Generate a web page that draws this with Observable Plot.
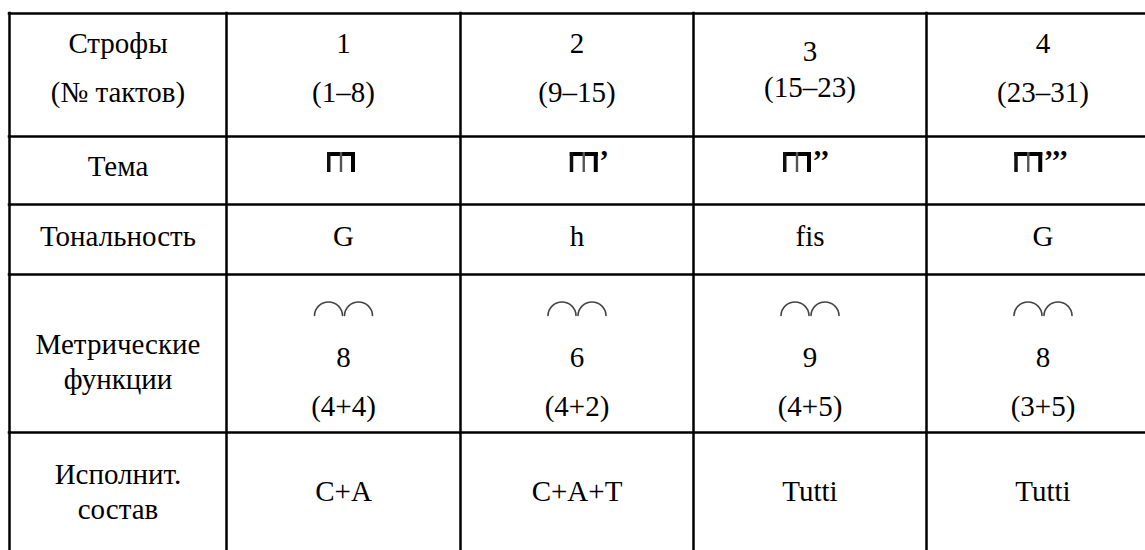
<!DOCTYPE html>
<html>
<head>
<meta charset="utf-8">
<script src="https://cdn.jsdelivr.net/npm/d3@7"></script>
<script src="https://cdn.jsdelivr.net/npm/@observablehq/plot@0.6"></script>
<style>
  html, body { margin: 0; padding: 0; background: #fff; }
  #chart svg { display: block; }
</style>
</head>
<body>
<div id="chart"></div>
<script>
// ---- data ----
const rowLabels = [["Строфы", "(№ тактов)"], ["Тема"], ["Тональность"], ["Метрические", "функции"], ["Исполнит.", "состав"]];
const strophes = ["1", "2", "3", "4"];
const barRanges = ["(1–8)", "(9–15)", "(15–23)", "(23–31)"];
const themePrimes = ["", "’", "’’", "’’’"];
const tonalities = ["G", "h", "fis", "G"];
const metricTotals = ["8", "6", "9", "8"];
const metricParts = ["(4+4)", "(4+2)", "(4+5)", "(3+5)"];
const ensembles = ["С+А", "С+А+Т", "Tutti", "Tutti"];

// ---- layout ----
const W = 1145, H = 550;
const colEdges = [9, 226, 460, 693, 926, 1159];
const rowEdges = [13, 136, 204, 274, 432, 552];
const cx = i => (colEdges[i] + colEdges[i + 1]) / 2;
const fs = 29;
const font = "'Liberation Serif', 'Times New Roman', serif";

const texts = [];
// left column labels
const labelY = [[43, 92], [166], [236], [344, 379], [474, 509]];
rowLabels.forEach((lines, r) => lines.forEach((t, k) => texts.push({x: cx(0), y: labelY[r][k], t})));
strophes.forEach((s, i) => {
  const c = cx(i + 1);
  const tight = i === 2;
  texts.push({x: c, y: tight ? 51 : 43, t: s});
  texts.push({x: c, y: tight ? 87 : 92, t: barRanges[i]});
  texts.push({x: c, y: 236, t: tonalities[i]});
  texts.push({x: c, y: 357, t: metricTotals[i]});
  texts.push({x: c, y: 406, t: metricParts[i]});
  texts.push({x: c, y: 491, t: ensembles[i]});
});

// theme glyph (beamed-notes sign) + primes; group offset from column centre
const symW = 28, symH = 20;
const groupShift = [-2, 12, -3, 0];
const themes = themePrimes.map((p, i) => {
  const primeW = p.length * 9.5;
  const left = cx(i + 1) - (symW + primeW) / 2 + groupShift[i];
  return {left, right: left + symW, top: 152, bottom: 152 + symH, primes: p};
});

// metric arcs: two arcs per stanza
const arcs = [];
metricTotals.forEach((m, i) => {
  const c = cx(i + 1);
  arcs.push({x1: c - 29, x2: c - 1});
  arcs.push({x1: c + 1, x2: c + 29});
});

const hLines = rowEdges.map(y => ({y}));
const vLines = colEdges.map(x => ({x}));

const chart = Plot.plot({
  width: W, height: H,
  margin: 0,
  x: {domain: [0, W], range: [0, W], axis: null},
  y: {domain: [0, H], range: [0, H], axis: null},
  marks: [
    Plot.ruleY(hLines, {y: "y", x1: colEdges[0] - 1.25, x2: colEdges[5] + 1.25, stroke: "#000", strokeWidth: 2.5}),
    Plot.ruleX(vLines, {x: "x", y1: rowEdges[0] - 1.25, y2: rowEdges[5], stroke: "#000", strokeWidth: 2.5}),
    Plot.text(texts, {x: "x", y: "y", text: "t", fontSize: fs, fontFamily: font, fill: "#000", lineAnchor: "middle"}),
    // glyph: top beam
    Plot.rect(themes, {x1: "left", x2: "right", y1: "top", y2: d => d.top + 4, fill: "#000"}),
    // outer stems
    Plot.rect(themes, {x1: "left", x2: d => d.left + 3.5, y1: "top", y2: "bottom", fill: "#111"}),
    Plot.rect(themes, {x1: d => d.right - 4, x2: "right", y1: "top", y2: "bottom", fill: "#000"}),
    // middle stem
    Plot.rect(themes, {x1: d => (d.left + d.right) / 2 - 1.2, x2: d => (d.left + d.right) / 2 + 1.2, y1: "top", y2: "bottom", fill: "#555"}),
    Plot.text(themes, {x: d => d.right + 1, y: d => d.top + 8, text: "primes", textAnchor: "start", fontSize: fs, fontFamily: font, fontWeight: "bold", fill: "#000"}),
    Plot.arrow(arcs, {x1: "x1", x2: "x2", y1: () => 315, y2: () => 315, bend: 88, headLength: 0, stroke: "#444", strokeWidth: 1.6, inset: 0})
  ]
});
document.getElementById("chart").append(chart);
</script>
</body>
</html>
